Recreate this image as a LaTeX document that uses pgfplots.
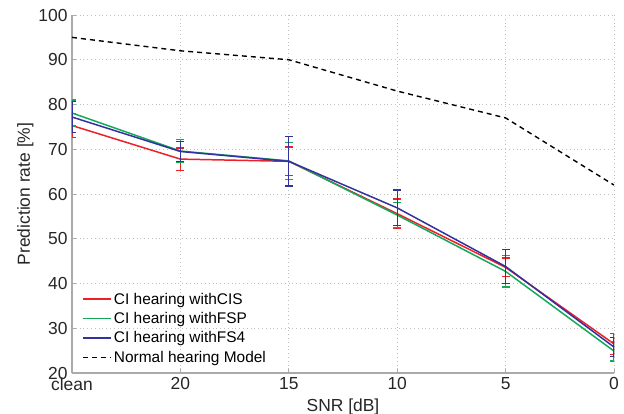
\documentclass[border=0pt]{standalone}
\usepackage{fontspec}
\setmainfont{Liberation Sans}
\usepackage{pgfplots}
\pgfplotsset{compat=1.18}
\definecolor{cred}{RGB}{236,32,40}
\definecolor{cgreen}{RGB}{20,168,90}
\definecolor{cblue}{RGB}{50,50,158}
\definecolor{axgray}{RGB}{170,170,170}
\begin{document}
\begin{tikzpicture}
\begin{axis}[
  scale only axis,
  width=542bp, height=358bp,
  xmin=0, xmax=5, ymin=20, ymax=100,
  xtick={0,1,2,3,4,5},
  xticklabels={clean,20,15,10,5,0},
  ytick={20,30,...,100},
  /pgf/number format/assume math mode=true,
  axis x line*=bottom, axis y line*=left,
  axis line style={axgray, line width=1.3pt, -},
  tick style={axgray, line width=0.8pt},
  tick align=inside,
  major tick length=4bp,
  grid=major,
  grid style={dash pattern=on 0.8bp off 3bp, gray!50, line width=0.7pt},
  tick label style={font=\fontsize{17.5}{18}\selectfont, text=black!85},
  xticklabel style={yshift=-1bp},
  yticklabel style={xshift=-1bp},
  xlabel={SNR [dB]},
  ylabel={Prediction rate [\%]},
  label style={font=\fontsize{17.5}{18}\selectfont, text=black!85},
  xlabel style={yshift=-2bp},
  ylabel style={yshift=-2bp},
  legend style={draw=none, fill=none, at={(0.019,0.02)}, anchor=south west,
    font=\fontsize{15.5}{17}\selectfont, row sep=2.7bp, inner sep=0pt},
  legend cell align=left,
  legend image code/.code={\draw[#1] (0bp,0bp) -- (28bp,0bp);},
  error bars/y dir=both, error bars/y explicit,
]
\addplot[cred, line width=1.5pt, error bars/.cd, error mark options={rotate=90, mark size=4bp, line width=1.2pt, cred}, error bar style={line width=1.2pt, cred}]
  coordinates {(0,75.3) +- (0,2.6) (1,67.8) +- (0,2.5) (2,67.3) +- (0,3.2) (3,55.6) +- (0,3.3) (4,43.6) +- (0,2.1) (5,26.5) +- (0,2.3)};
\addlegendentry{CI hearing withCIS}
\addplot[cgreen, line width=1.5pt, error bars/.cd, error mark options={rotate=90, mark size=4bp, line width=1.2pt, cgreen}, error bar style={line width=1.2pt, cgreen}]
  coordinates {(0,78.1) +- (0,2.9) (1,69.6) +- (0,2.6) (2,67.4) +- (0,4.1) (3,55.3) +- (0,2.8) (4,42.7) +- (0,3.5) (5,24.9) +- (0,2.2)};
\addlegendentry{CI hearing withFSP}
\addplot[cblue, line width=1.5pt, error bars/.cd, error mark options={rotate=90, mark size=4bp, line width=1.2pt, cblue}, error bar style={line width=1.2pt, cblue}]
  coordinates {(0,77.2) +- (0,3.4) (1,69.5) +- (0,2.3) (2,67.3) +- (0,5.5) (3,56.9) +- (0,4.0) (4,43.8) +- (0,3.8) (5,25.8) +- (0,2.2)};
\addlegendentry{CI hearing withFS4}
\addplot[black, line width=1.4pt, dash pattern=on 5bp off 4bp, error bars/y dir=none]
  coordinates {(0,95) (1,92) (2,90) (3,83) (4,77) (5,62)};
\addlegendentry{Normal hearing Model}
\end{axis}
\pgfresetboundingbox
\path[use as bounding box] ([xshift=-72bp,yshift=-41bp]current axis.south west) rectangle ([xshift=10bp,yshift=15bp]current axis.north east);
\end{tikzpicture}
\end{document}
